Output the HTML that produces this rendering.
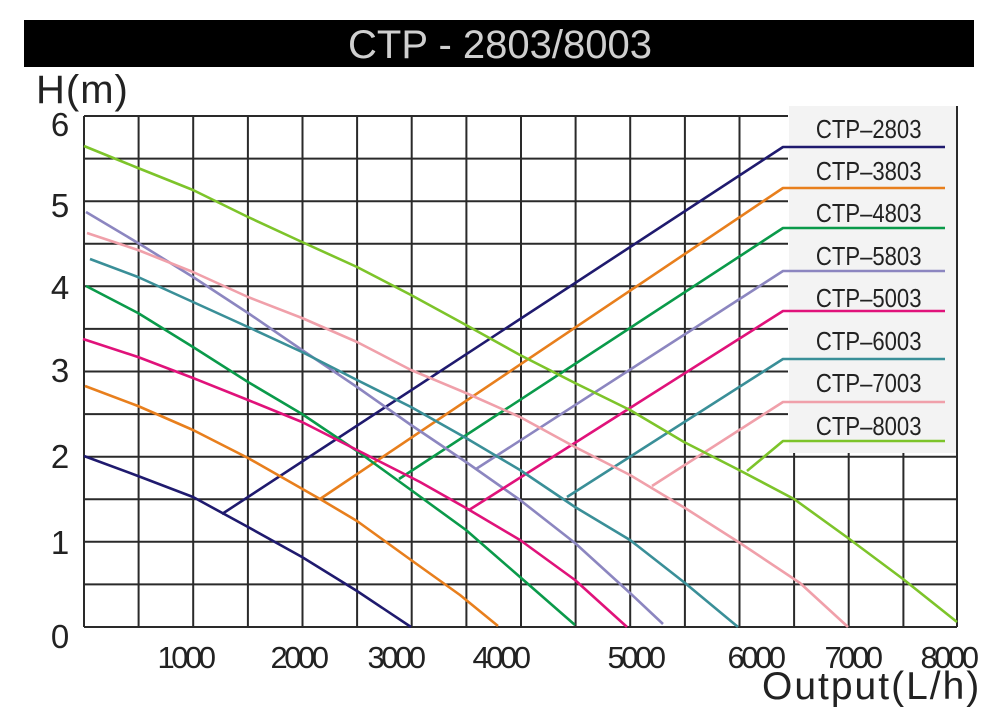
<!DOCTYPE html>
<html><head><meta charset="utf-8"><style>
html,body{margin:0;padding:0;background:#fff;}
body{width:1000px;height:712px;overflow:hidden;}
</style></head><body>
<svg width="1000" height="712" viewBox="0 0 1000 712" xmlns="http://www.w3.org/2000/svg" font-family="Liberation Sans, sans-serif">
<rect x="24" y="20" width="950" height="47" fill="#000"/>
<text x="500" y="58" text-anchor="middle" font-size="40" fill="#cfcfcf">CTP - 2803/8003</text>
<text x="36" y="103" font-size="40" fill="#222" letter-spacing="1">H(m)</text>
<g stroke="#2a2a2a" stroke-width="2" fill="none">
<path d="M84 116H788M84 158.6H788M84 201.2H788M84 243.8H788M84 286.3H788M84 328.9H788M84 371.5H788M84 414.1H788M84 456.7H957M84 499.3H957M84 541.8H957M84 584.4H957M84 627H957"/>
<path d="M84 116V627M138.6 116V627M193.2 116V627M247.9 116V627M302.5 116V627M357.1 116V627M411.7 116V627M466.4 116V627M521 116V627M575.6 116V627M630.2 116V627M684.9 116V627M739.5 116V627M794.1 452V627M848.7 452V627M903.4 452V627M957 106V627"/>
</g>
<rect x="789" y="106" width="167" height="347" fill="#f3f3f3"/>
<g font-size="26" fill="#222" text-anchor="middle" transform="scale(0.85,1)">
<text x="1022" y="138">CTP–2803</text>
<text x="1022" y="180">CTP–3803</text>
<text x="1022" y="222">CTP–4803</text>
<text x="1022" y="265">CTP–5803</text>
<text x="1022" y="307">CTP–5003</text>
<text x="1022" y="350">CTP–6003</text>
<text x="1022" y="392">CTP–7003</text>
<text x="1022" y="435">CTP–8003</text>
</g>
<g fill="none" stroke-width="2.6" stroke-linejoin="round">
<polyline stroke="#1f1a6e" points="84,456 138,476 193,497 248,527 302,557 357,591 411,627"/>
<polyline stroke="#1f1a6e" points="222,514 783,147 945,147"/>
<polyline stroke="#e87f1d" points="85,386 138,406 193,430 248,458 320,499 357,521 411,560 460,595 498,626"/>
<polyline stroke="#e87f1d" points="320,499 783,188 945,188"/>
<polyline stroke="#0a9a4a" points="86,286 138,313 193,347 248,382 302,414 357,451 411,490 466,530 520,577 575,625"/>
<polyline stroke="#0a9a4a" points="399,479 783,228 945,228"/>
<polyline stroke="#8c86c0" points="86,212 138,243 193,277 248,313 302,350 357,387 411,425 466,462 520,500 575,543 630,593 663,624"/>
<polyline stroke="#8c86c0" points="476,469 783,271 945,271"/>
<polyline stroke="#e0127a" points="83,339 138,357 193,378 248,400 302,422 357,450 420,482 466,508 520,540 575,580 627,627"/>
<polyline stroke="#e0127a" points="469,510 783,311 945,311"/>
<polyline stroke="#3a8f98" points="90,259 138,277 193,302 248,327 302,352 357,380 411,407 466,438 520,470 575,507 630,540 685,583 738,627"/>
<polyline stroke="#3a8f98" points="567,497 783,359 945,359"/>
<polyline stroke="#f0a0aa" points="87,233 138,250 193,272 248,297 302,318 357,342 411,370 466,393 520,417 575,447 630,475 685,508 740,543 800,583 848,627"/>
<polyline stroke="#f0a0aa" points="652,486 783,402 945,402"/>
<polyline stroke="#7dc42a" points="84,146 138,168 193,190 248,217 302,242 357,267 411,295 466,325 520,355 575,383 630,410 684,442 739,470 794,499 848,538 903,579 957,622"/>
<polyline stroke="#7dc42a" points="747,471 783,441 945,441"/>
</g>
<g font-size="33" fill="#222" text-anchor="middle">
<text x="60" y="136">6</text>
<text x="60" y="217">5</text>
<text x="60" y="299">4</text>
<text x="60" y="382">3</text>
<text x="60" y="468">2</text>
<text x="60" y="554">1</text>
<text x="60" y="648">0</text>
</g>
<g font-size="31" fill="#222" text-anchor="middle" letter-spacing="-3.5">
<text x="185" y="668">1000</text>
<text x="298" y="668">2000</text>
<text x="395" y="668">3000</text>
<text x="500" y="668">4000</text>
<text x="635" y="668">5000</text>
<text x="755" y="668">6000</text>
<text x="852" y="668">7000</text>
<text x="948" y="668">8000</text>
</g>
<text x="762" y="699" font-size="39" fill="#222" letter-spacing="2">Output(L/h)</text>
</svg>
</body></html>
